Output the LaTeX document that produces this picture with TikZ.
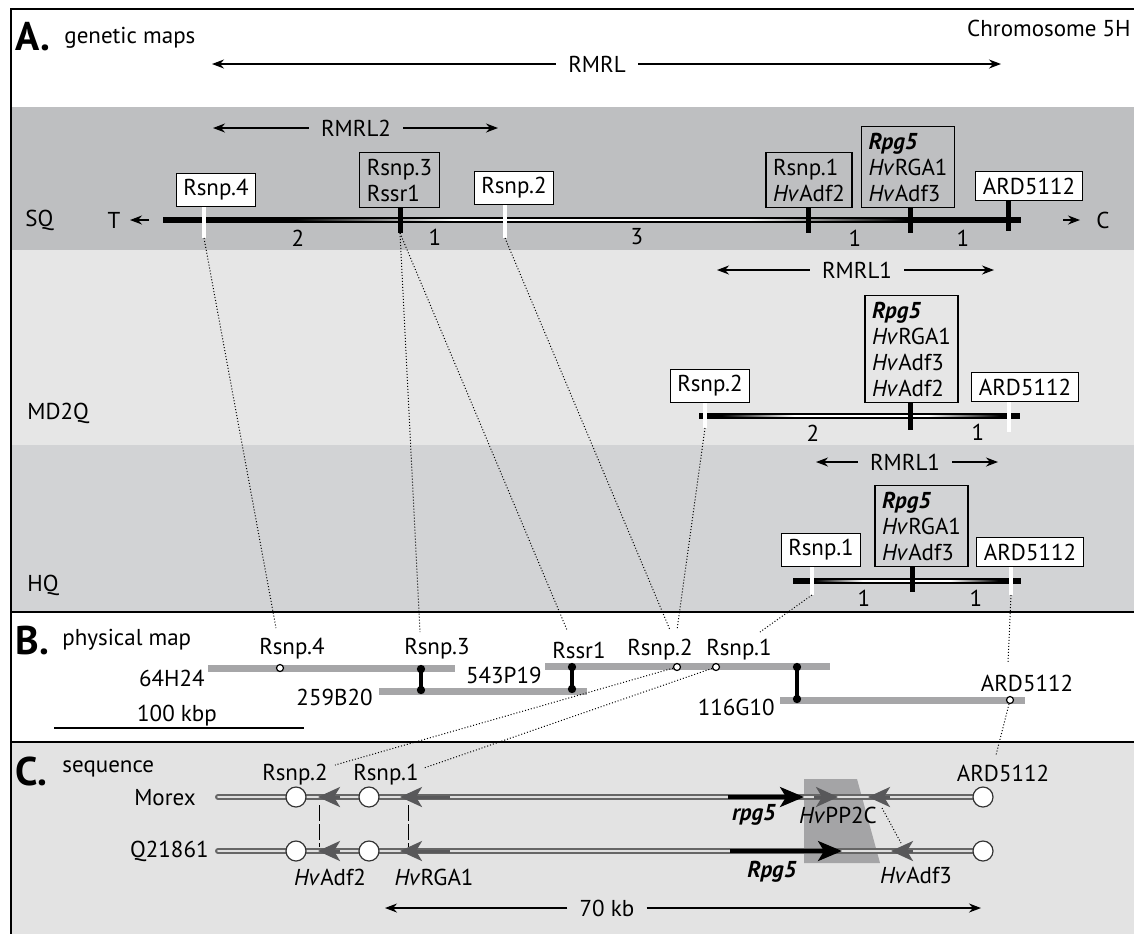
\documentclass[tikz,border=0pt]{standalone}
\usepackage{fontspec}
\setmainfont{PT Sans}
\usepackage{tikz}
\usetikzlibrary{arrows.meta,positioning}
\definecolor{sqgray}{RGB}{190,191,193}
\definecolor{mdgray}{RGB}{230,230,230}
\definecolor{hqgray}{RGB}{210,211,213}
\definecolor{seqgray}{RGB}{227,227,227}
\definecolor{bargray}{RGB}{166,166,168}
\definecolor{genegray}{RGB}{88,88,90}
\definecolor{boxgray}{RGB}{164,164,166}
\pgfdeclarehorizontalshading{chromcore}{100bp}{color(0bp)=(black); color(25bp)=(black); color(38bp)=(white); color(62bp)=(white); color(75bp)=(black); color(100bp)=(black)}

\begin{document}
\begin{tikzpicture}
[x=0.5pt,y=-0.5pt,font=\fontsize{11.5}{13}\selectfont,
 txt/.style={inner sep=0pt},
 head/.style={inner sep=0pt,font=\fontsize{20}{20}\selectfont\bfseries},
 wbox/.style={draw,line width=0.6pt,fill=white,inner xsep=3.5pt,inner ysep=3pt,align=left,anchor=south},
 gbox/.style={wbox,fill=#1},
 btick/.style={line width=2.5pt},
 wtick/.style={white,line width=2pt},
 chrom/.style={line width=3pt},
 span/.style={-{Stealth[length=6pt,width=4.5pt]},line width=0.6pt},
 spanlab/.style={inner xsep=6pt,inner ysep=0pt},
 link/.style={densely dotted,line width=0.5pt},
 bac/.style={bargray,line width=3.5pt},
 bridge/.style={line width=2pt,{Circle[length=4pt]}-{Circle[length=4pt]}},
 snp/.style={circle,draw,fill=white,inner sep=0pt,minimum size=3.5pt,line width=0.6pt},
 seqline/.style={line width=1pt,double=gray!25,double distance=1pt,draw=black!60,line cap=round},
 ring/.style={circle,draw=black!80,fill=white,line width=0.6pt,inner sep=0pt,minimum size=10pt},
 garr/.style={genegray,line width=1.5pt,-{Stealth[length=11pt,width=10pt,inset=3pt]}},
 barr/.style={black,line width=1.6pt,-{Stealth[length=12pt,width=10pt,inset=3pt]}}]
\clip (0,0) rectangle (1134,934);
\fill[white] (0,0) rectangle (1134,934);
\fill[sqgray] (11,107) rectangle (1134,250);
\fill[mdgray] (11,250) rectangle (1134,445);
\fill[hqgray] (11,445) rectangle (1134,612);
\fill[seqgray] (11,742) rectangle (1134,934);
\draw[line width=0.8pt] (1134,9) -- (11,9) -- (11,934);
\draw[line width=1pt] (11,612) -- (1134,612);
\draw[line width=1pt] (11,742) -- (1134,742);

% A. genetic maps
\node[head,anchor=west] (hA) at (15,37) {A.};
\node[txt,anchor=west] (gm) at (64,38) {genetic maps};
\node[txt,anchor=east] (chr) at (1131,28) {Chromosome 5H};
\node[spanlab] (rmrl) at (597,64) {RMRL};
\coordinate (rmrlL) at (212,64);
\coordinate (rmrlR) at (1001,64);
\draw[span] (rmrl) -- (rmrlL);
\draw[span] (rmrl) -- (rmrlR);

% SQ
\node[txt,anchor=west] (sq) at (25,220) {SQ};
\node[spanlab] (rmrl2) at (356,128) {RMRL2};
\coordinate (rmrl2L) at (213,128);
\coordinate (rmrl2R) at (498,128);
\draw[span] (rmrl2) -- (rmrl2L);
\draw[span] (rmrl2) -- (rmrl2R);
\node[txt] (tel) at (114,220) {T};
\coordinate (telA) at (149,220);
\coordinate (telB) at (130,220);
\draw[span] (telA) -- (telB);
\node[txt] (cen) at (1103,220) {C};
\coordinate (cenA) at (1063,220);
\coordinate (cenB) at (1080,220);
\draw[span] (cenA) -- (cenB);
\coordinate (sqL) at (163,220);
\coordinate (sqR) at (1021,220);
\draw[chrom] (sqL) -- (sqR);
\shade[shading=chromcore] (295,219.2) rectangle (905,220.8);
\node[wbox] (s4) at (216,207) {Rsnp.4};
\node[gbox=sqgray] (s3) at (399.5,208) {Rsnp.3\\Rssr1};
\node[wbox] (s2) at (514,205) {Rsnp.2};
\node[gbox=sqgray] (s1) at (809,208) {Rsnp.1\\\textit{Hv}Adf2};
\node[gbox=sqgray] (sr) at (908,208) {\textbf{\textit{Rpg5}}\\\textit{Hv}RGA1\\\textit{Hv}Adf3};
\node[wbox] (sa) at (1029,201) {ARD5112};
\coordinate (t4) at (204,238);
\coordinate (t3) at (400,233);
\coordinate (t2) at (505,238);
\coordinate (t1) at (808,233);
\coordinate (tr) at (910,233);
\coordinate (ta) at (1008,231);
\draw[wtick] (s4.south -| t4) -- (t4);
\draw[btick] (s3.south -| t3) -- (t3);
\draw[wtick] (s2.south -| t2) -- (t2);
\draw[btick] (s1.south -| t1) -- (t1);
\draw[btick] (sr.south -| tr) -- (tr);
\draw[btick] (sa.south -| ta) -- (ta);
\node[txt] (d1) at (298,238) {2};
\node[txt] (d2) at (435,237) {1};
\node[txt] (d3) at (637,237) {3};
\node[txt] (d4) at (855,238) {1};
\node[txt] (d5) at (963,238) {1};

% MD2Q
\node[txt,anchor=west] (md) at (27,413) {MD2Q};
\node[spanlab] (rmrl1a) at (857,270) {RMRL1};
\coordinate (rmrl1aL) at (717,270);
\coordinate (rmrl1aR) at (994,270);
\draw[span] (rmrl1a) -- (rmrl1aL);
\draw[span] (rmrl1a) -- (rmrl1aR);
\coordinate (mdL) at (699,416);
\coordinate (mdR) at (1020,416);
\draw[chrom] (mdL) -- (mdR);
\shade[shading=chromcore] (722,415.2) rectangle (1000,416.8);
\node[wbox] (m2) at (710,403) {Rsnp.2};
\node[gbox=mdgray] (mr) at (911.5,403) {\textbf{\textit{Rpg5}}\\\textit{Hv}RGA1\\\textit{Hv}Adf3\\\textit{Hv}Adf2};
\node[wbox] (ma) at (1025,402) {ARD5112};
\coordinate (m2t) at (705,428);
\coordinate (mrt) at (910,430);
\coordinate (mat) at (1009,432);
\draw[wtick] (m2.south -| m2t) -- (m2t);
\draw[btick] (mr.south -| mrt) -- (mrt);
\draw[wtick] (ma.south -| mat) -- (mat);
\node[txt] (d6) at (813,433) {2};
\node[txt] (d7) at (978,432) {1};

% HQ
\node[txt,anchor=west] (hq) at (27,585) {HQ};
\node[spanlab] (rmrl1b) at (905,462) {RMRL1};
\coordinate (rmrl1bL) at (816,462);
\coordinate (rmrl1bR) at (998,462);
\draw[span] (rmrl1b) -- (rmrl1bL);
\draw[span] (rmrl1b) -- (rmrl1bR);
\coordinate (hqL) at (793,581);
\coordinate (hqR) at (1021,581);
\draw[chrom] (hqL) -- (hqR);
\shade[shading=chromcore] (815,580.2) rectangle (998,581.8);
\node[wbox] (h1) at (821,567) {Rsnp.1};
\node[gbox=hqgray] (hr) at (921.5,567) {\textbf{\textit{Rpg5}}\\\textit{Hv}RGA1\\\textit{Hv}Adf3};
\node[wbox] (ha) at (1030,567) {ARD5112};
\coordinate (h1t) at (812,595);
\coordinate (hrt) at (912,592);
\coordinate (hat) at (1011,595);
\draw[wtick] (h1.south -| h1t) -- (h1t);
\draw[btick] (hr.south -| hrt) -- (hrt);
\draw[wtick] (ha.south -| hat) -- (hat);
\node[txt] (d8) at (864,598) {1};
\node[txt] (d9) at (976,598) {1};

% B. physical map
\node[head,anchor=west] (hB) at (15,640) {B.};
\node[txt,anchor=west] (pm) at (62,640) {physical map};
\coordinate (b64L) at (208,668);
\coordinate (b64R) at (455,668);
\coordinate (b259L) at (379,691);
\coordinate (b259R) at (587,691);
\coordinate (b543L) at (545,666);
\coordinate (b543R) at (830,666);
\coordinate (b116L) at (780,700);
\coordinate (b116R) at (1025,700);
\draw[bac] (b64L) -- (b64R);
\draw[bac] (b259L) -- (b259R);
\draw[bac] (b543L) -- (b543R);
\draw[bac] (b116L) -- (b116R);
\node[txt,anchor=east] (c64) at (205,678) {64H24};
\node[txt,anchor=east] (c259) at (373,697) {259B20};
\node[txt,anchor=east] (c543) at (542,675) {543P19};
\node[txt,anchor=east] (c116) at (775,707) {116G10};
\coordinate (j1a) at (421,665);
\coordinate (j1b) at (421,694);
\coordinate (j2a) at (572,663);
\coordinate (j2b) at (572,693);
\coordinate (j3a) at (797,663);
\coordinate (j3b) at (797,703);
\draw[bridge] (j1a) -- (j1b);
\draw[bridge] (j2a) -- (j2b);
\draw[bridge] (j3a) -- (j3b);
\node[snp] (p4) at (280,668) {};
\node[snp] (p2) at (677,667) {};
\node[snp] (p1) at (716,667) {};
\node[snp] (pa) at (1010,700) {};
\node[txt] (l4) at (292,649) {Rsnp.4};
\node[txt] (l3) at (437,649) {Rsnp.3};
\node[txt] (lr) at (579,650) {Rssr1};
\node[txt] (l2) at (660,650) {Rsnp.2};
\node[txt] (l1) at (739,650) {Rsnp.1};
\node[txt] (la) at (1027,683) {ARD5112};
\node[txt] (kbp) at (177,716) {100 kbp};
\coordinate (kbpL) at (54,728);
\coordinate (kbpR) at (304,728);
\draw[line width=0.6pt] (kbpL) -- (kbpR);

% links between maps
\coordinate (e4) at (276,628);
\coordinate (e3) at (420,632);
\coordinate (er) at (567,630);
\coordinate (e2a) at (670,630);
\coordinate (e2b) at (677,630);
\coordinate (e1) at (760,632);
\coordinate (ea) at (1008,663);
\draw[link] (t4) -- (e4);
\draw[link] (t3) -- (e3);
\draw[link] (t3) -- (er);
\draw[link] (t2) -- (e2a);
\draw[link] (m2t) -- (e2b);
\draw[link] (h1t) -- (e1);
\draw[link] (hat) -- (ea);
\coordinate (f2) at (335,765);
\coordinate (f1) at (424,768);
\coordinate (fa) at (996,755);
\draw[link] (p2) -- (f2);
\draw[link] (p1) -- (f1);
\draw[link] (pa) -- (fa);

% C. sequence
\node[head,anchor=west] (hC) at (15,771) {C.};
\node[txt,anchor=west] (sqc) at (62,769) {sequence};
\fill[boxgray] (804,779) -- (857,779) -- (880,863) -- (804,863) -- cycle;
\coordinate (mxL) at (218,797);
\coordinate (mxR) at (983,797);
\coordinate (qL) at (218,851);
\coordinate (qR) at (983,851);
\draw[seqline] (mxL) -- (mxR);
\draw[seqline] (qL) -- (qR);
\node[txt,anchor=east] (morex) at (196,798) {Morex};
\node[txt,anchor=east] (q218) at (209,851) {Q21861};
\draw[garr] (340,797) -- (318,797);
\draw[garr] (450,797) -- (400,797);
\draw[barr] (728,797) -- (804,797);
\draw[garr] (814,797) -- (838,797);
\draw[garr] (890,797) -- (868,797);
\draw[garr] (340,851) -- (318,851);
\draw[garr] (450,851) -- (400,851);
\draw[barr] (730,851) -- (842,851);
\draw[garr] (913,851) -- (891,851);
\node[ring] (r1) at (296,797) {};
\node[ring] (r2) at (369,797) {};
\node[ring] (r3) at (983,797) {};
\node[ring] (r4) at (296,851) {};
\node[ring] (r5) at (369,851) {};
\node[ring] (r6) at (983,851) {};
\coordinate (v1a) at (319,805);
\coordinate (v1b) at (319,847);
\coordinate (v2a) at (408,805);
\coordinate (v2b) at (408,847);
\draw[line width=0.5pt,dash pattern=on 8pt off 1.5pt] (v1a) -- (v1b);
\draw[line width=0.5pt,dash pattern=on 8pt off 1.5pt] (v2a) -- (v2b);
\coordinate (adfA) at (882,808);
\coordinate (adfB) at (901,843);
\draw[link] (adfA) -- (adfB);
\node[txt] (n2) at (295,775) {Rsnp.2};
\node[txt] (n1) at (386,775) {Rsnp.1};
\node[txt] (na) at (1003,773) {ARD5112};
\node[txt] (g1) at (754,815) {\textbf{\textit{rpg5}}};
\node[txt] (g2) at (838,815) {\textit{Hv}PP2C};
\node[txt] (g3) at (772,872) {\textbf{\textit{Rpg5}}};
\node[txt] (g4) at (916,875) {\textit{Hv}Adf3};
\node[txt] (g5) at (330,877) {\textit{Hv}Adf2};
\node[txt] (g6) at (434,877) {\textit{Hv}RGA1};
\node[spanlab] (kb) at (607,908) {70 kb};
\coordinate (kbL) at (385,908);
\coordinate (kbR) at (981,908);
\draw[span] (kb) -- (kbL);
\draw[span] (kb) -- (kbR);
\end{tikzpicture}
\end{document}
